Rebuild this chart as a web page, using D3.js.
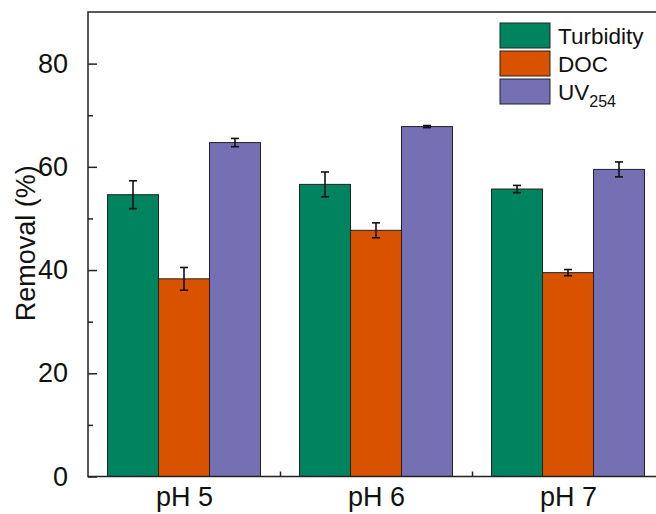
<!DOCTYPE html>
<html lang="en">
<head>
    <meta charset="UTF-8">
    <title>Removal by pH</title>
    <script src="https://cdnjs.cloudflare.com/ajax/libs/d3/7.8.5/d3.min.js"></script>
    <style>
        body {
            margin: 0;
            background: #fff;
            font-family: "Liberation Sans", Arial, sans-serif;
        }
        svg text { fill: #111; }
    </style>
</head>
<body>
    <div id="chart"></div>
    <script>
        // Data
        const categories = ["pH 5", "pH 6", "pH 7"];
        const seriesNames = ["Turbidity", "DOC", "UV254"];
        const turbidity = [54.6, 56.6, 55.7];
        const turbidityErr = [2.7, 2.4, 0.7];
        const doc = [38.3, 47.7, 39.5];
        const docErr = [2.2, 1.45, 0.6];
        const uv254 = [64.7, 67.8, 59.5];
        const uv254Err = [0.8, 0.2, 1.45];
        const yTicks = [0, 20, 40, 60, 80];
        const yMinorTicks = [10, 30, 50, 70];
        const xMinorTicks = [1.5, 2.5];

        const colors = ["#00845f", "#d95200", "#7570b3"];
        const values = [turbidity, doc, uv254];
        const errors = [turbidityErr, docErr, uv254Err];

        const width = 656, height = 514;
        const plotLeft = 88, plotTop = 12, plotBottom = 476.5, plotRight = 664;

        const svg = d3.select("#chart").append("svg")
            .attr("width", width)
            .attr("height", height);

        // Scales: categories sit at 1, 2, 3
        const x = d3.scaleLinear().domain([0.5, 3.5]).range([plotLeft, plotRight]);
        const y = d3.scaleLinear().domain([0, 90]).range([plotBottom, plotTop]);
        const barW = 0.2656; // in category units

        // Bars
        values.forEach((vals, s) => {
            const g = svg.append("g");
            g.selectAll("rect")
                .data(vals)
                .enter()
                .append("rect")
                .attr("x", (d, i) => x(i + 1 + (s - 1) * barW - barW / 2))
                .attr("width", x(barW) - x(0))
                .attr("y", d => y(d))
                .attr("height", d => y(0) - y(d))
                .attr("fill", colors[s])
                .attr("stroke", "#222")
                .attr("stroke-width", 1);

            // Error bars
            const eg = g.selectAll("g.err")
                .data(vals)
                .enter()
                .append("g")
                .attr("class", "err")
                .attr("stroke", "#111")
                .attr("stroke-width", 1.6);
            const cx = (i) => x(i + 1 + (s - 1) * barW);
            eg.append("line")
                .attr("x1", (d, i) => cx(i)).attr("x2", (d, i) => cx(i))
                .attr("y1", (d, i) => y(d + errors[s][i]))
                .attr("y2", (d, i) => y(d - errors[s][i]));
            eg.append("line")
                .attr("x1", (d, i) => cx(i) - 4).attr("x2", (d, i) => cx(i) + 4)
                .attr("y1", (d, i) => y(d + errors[s][i]))
                .attr("y2", (d, i) => y(d + errors[s][i]));
            eg.append("line")
                .attr("x1", (d, i) => cx(i) - 4).attr("x2", (d, i) => cx(i) + 4)
                .attr("y1", (d, i) => y(d - errors[s][i]))
                .attr("y2", (d, i) => y(d - errors[s][i]));
        });

        // Y axis (ticks pointing inward)
        const yAxis = svg.append("g")
            .attr("transform", `translate(${plotLeft},0)`)
            .call(d3.axisLeft(y).tickValues(yTicks).tickSize(-9).tickPadding(20).tickFormat(d3.format("d")));
        yAxis.select(".domain").remove();
        yAxis.selectAll("line").attr("stroke", "#222").attr("stroke-width", 1.5);
        yAxis.selectAll("text")
            .attr("font-size", 27)
            .attr("font-family", "'Liberation Sans', Arial, sans-serif")
            .attr("fill", "#111");

        svg.append("g")
            .attr("transform", `translate(${plotLeft},0)`)
            .call(d3.axisLeft(y).tickValues(yMinorTicks).tickSize(-5).tickFormat(""))
            .call(g => g.select(".domain").remove())
            .selectAll("line").attr("stroke", "#222").attr("stroke-width", 1.5);

        // X axis
        const xAxis = svg.append("g")
            .attr("transform", `translate(0,${plotBottom})`)
            .call(d3.axisBottom(x).tickValues([1, 2, 3]).tickSize(0).tickPadding(10)
                .tickFormat((d, i) => categories[i]));
        xAxis.select(".domain").remove();
        xAxis.selectAll("text")
            .attr("font-size", 27)
            .attr("font-family", "'Liberation Sans', Arial, sans-serif")
            .attr("fill", "#111");

        svg.append("g")
            .attr("transform", `translate(0,${plotBottom})`)
            .call(d3.axisBottom(x).tickValues(xMinorTicks).tickSize(-5).tickFormat(""))
            .call(g => g.select(".domain").remove())
            .selectAll("line").attr("stroke", "#222").attr("stroke-width", 1.5);

        // Frame
        svg.append("rect")
            .attr("x", plotLeft).attr("y", plotTop)
            .attr("width", plotRight - plotLeft).attr("height", plotBottom - plotTop)
            .attr("fill", "none")
            .attr("stroke", "#222")
            .attr("stroke-width", 1.5);

        // Y label
        svg.append("text")
            .attr("transform", `translate(35,${(plotTop + plotBottom) / 2 - 1}) rotate(-90)`)
            .attr("text-anchor", "middle")
            .attr("font-size", 27)
            .text("Removal (%)");

        // Legend
        const legend = svg.append("g").attr("transform", "translate(500,23)");
        seriesNames.forEach((name, i) => {
            const row = legend.append("g").attr("transform", `translate(0,${i * 28})`);
            row.append("rect")
                .attr("width", 50).attr("height", 25)
                .attr("fill", colors[i])
                .attr("stroke", "#222")
                .attr("stroke-width", 1);
            const t = row.append("text")
                .attr("x", 58).attr("y", 21)
                .attr("font-size", 22.5);
            if (name === "UV254") {
                t.append("tspan").text("UV");
                t.append("tspan").attr("font-size", 16).attr("dy", 7).text("254");
            } else {
                t.text(name);
            }
        });
    </script>
</body>
</html>
